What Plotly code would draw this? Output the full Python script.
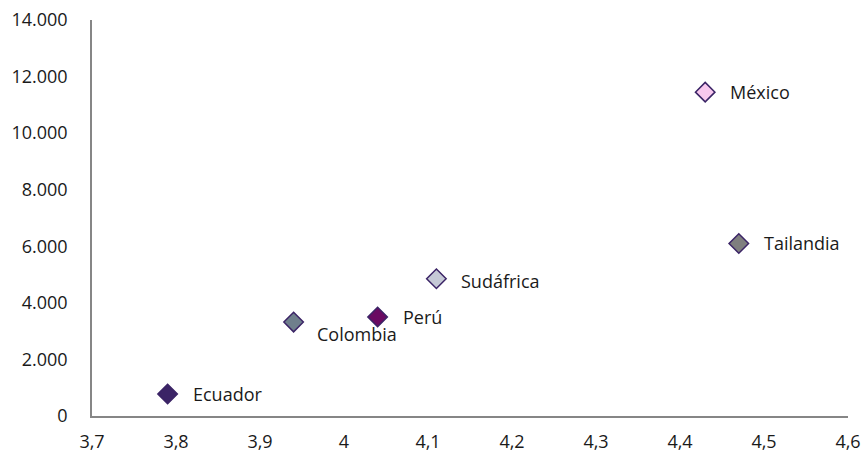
import plotly.graph_objects as go

countries = ["Ecuador", "Colombia", "Perú", "Sudáfrica", "México", "Tailandia"]
x_vals = [3.79, 3.94, 4.04, 4.11, 4.43, 4.47]
y_vals = [780, 3320, 3500, 4850, 11450, 6100]
fill_colors = ["#3B2466", "#6F7F8C", "#6A0A62", "#C5C9D6", "#F8C8EE", "#7F7F7F"]
label_dx = [23, 21, 23, 23, 23, 23]
label_dy = [0, -12, 0, -2, 0, 0]

fig = go.Figure()
fig.add_trace(go.Scatter(
    x=x_vals, y=y_vals, mode="markers",
    marker=dict(symbol="diamond", size=15, color=fill_colors,
                line=dict(color="#3B2466", width=1.5)),
    showlegend=False, cliponaxis=False, hoverinfo="text", hovertext=countries,
))

for c, xv, yv, dx, dy in zip(countries, x_vals, y_vals, label_dx, label_dy):
    fig.add_annotation(x=xv, y=yv, text=c, showarrow=False, xanchor="left",
                       yanchor="middle", xshift=dx, yshift=dy,
                       font=dict(family="Open Sans", size=18, color="#1a1a1a"))

fig.update_layout(
    width=866, height=456,
    margin=dict(l=92, r=18, t=20, b=40, autoexpand=False),
    paper_bgcolor="white", plot_bgcolor="white",
    separators=",.",
    font=dict(family="Open Sans", size=18, color="#1a1a1a"),
)
fig.update_xaxes(range=[3.7, 4.6], dtick=0.1, tick0=3.7, showgrid=False,
                 showline=True, linecolor="#868686", linewidth=1.5,
                 zeroline=False, ticks="", ticklabelstandoff=9, automargin=False)
fig.update_yaxes(range=[0, 14000], dtick=2000, tickformat=",d", showgrid=False,
                 showline=True, linecolor="#868686", linewidth=1.5,
                 zeroline=False, ticks="", ticklabelstandoff=19, automargin=False)

fig.write_html("out.html",
               config={"displayModeBar": False},
               post_script="document.documentElement.style.margin='0';"
                           "document.body.style.margin='0';"
                           "document.body.style.overflow='hidden';")
